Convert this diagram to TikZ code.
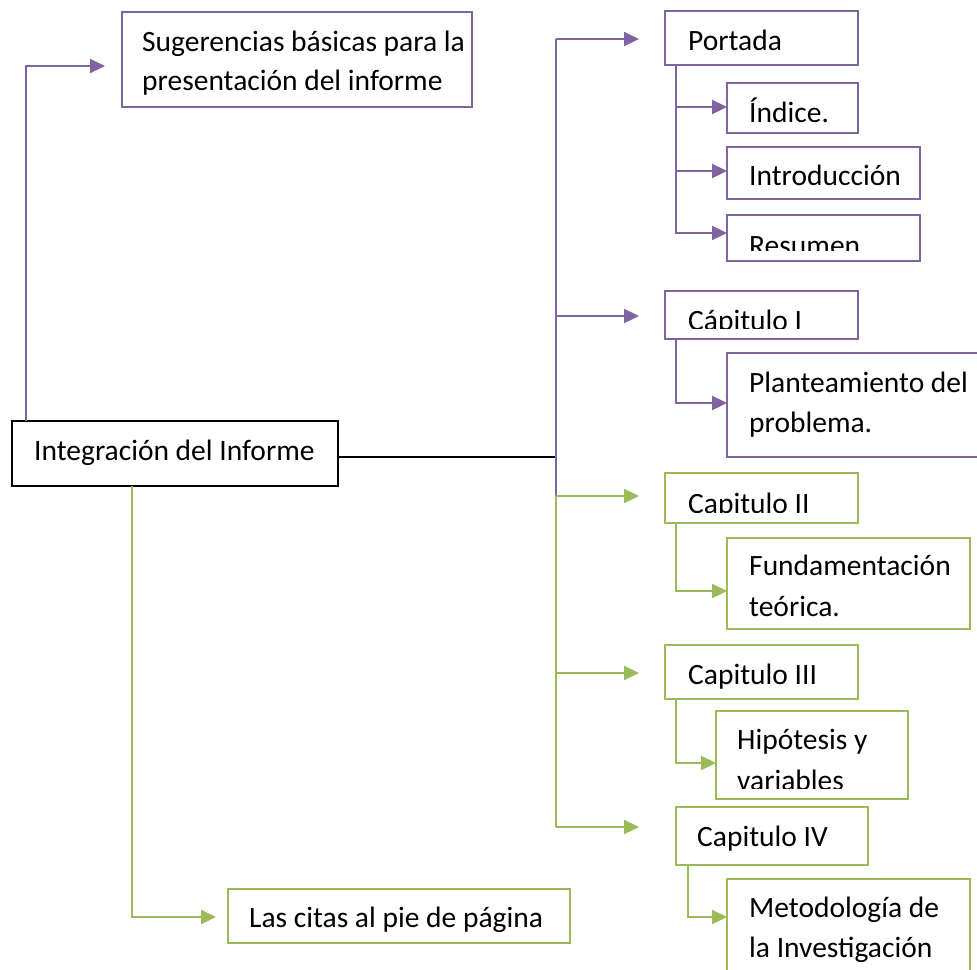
\documentclass[tikz,border=0pt]{standalone}
\usepackage{fontspec}
\setmainfont{Carlito}
\usetikzlibrary{arrows.meta}
\definecolor{pur}{HTML}{8064A2}
\definecolor{grn}{HTML}{9BBB59}
\tikzset{
  bx/.style={rectangle, line width=2.3pt, anchor=north west, inner sep=0pt, outer sep=0pt},
  pbox/.style={bx, draw=pur},
  gbox/.style={bx, draw=grn},
  kbox/.style={bx, draw=black},
  txt/.style={inner sep=0pt, anchor=base west, text=black, font=\fontsize{29.5pt}{35pt}\selectfont},
  pcon/.style={draw=pur, line width=2.3pt},
  gcon/.style={draw=grn, line width=2.3pt},
  parr/.style={pcon, -{Triangle[length=15pt,width=14pt]}},
  garr/.style={gcon, -{Triangle[length=15pt,width=14pt]}},
}
\begin{document}
\begin{tikzpicture}[x=1pt,y=-1pt]
\useasboundingbox (0,0) rectangle (977,969);
\clip (0,0) rectangle (977,969);
\fill[white] (0,0) rectangle (977,969);

% boxes
\node[kbox, minimum width=326pt, minimum height=65pt] (integ) at (12,421) {};
\node[pbox, minimum width=350pt, minimum height=95pt] (sug) at (122,12) {};
\node[pbox, minimum width=193pt, minimum height=54pt] (portada) at (665,11) {};
\node[pbox, minimum width=131pt, minimum height=50pt] (indice) at (727,83) {};
\node[pbox, minimum width=193pt, minimum height=52pt] (intro) at (727,147) {};
\node[pbox, minimum width=193pt, minimum height=46pt] (resumen) at (727,215) {};
\node[pbox, minimum width=193pt, minimum height=48pt] (cap1) at (665,291) {};
\node[pbox, minimum width=270pt, minimum height=104pt] (plant) at (727,353) {};
\node[gbox, minimum width=193pt, minimum height=50pt] (cap2) at (665,473) {};
\node[gbox, minimum width=243pt, minimum height=91pt] (fund) at (727,538) {};
\node[gbox, minimum width=193pt, minimum height=54pt] (cap3) at (665,645) {};
\node[gbox, minimum width=192pt, minimum height=88pt] (hip) at (716,711) {};
\node[gbox, minimum width=192pt, minimum height=58pt] (cap4) at (676,807) {};
\node[gbox, minimum width=243pt, minimum height=110pt] (met) at (727,879) {};
\node[gbox, minimum width=342pt, minimum height=54pt] (citas) at (228,889) {};

% texts
\node[txt] (tinteg) at (34,460) {Integración del Informe};
\node[txt] (tsug1) at (142,51) {Sugerencias básicas para la};
\node[txt] (tsug2) at (142,90) {presentación del informe};
\node[txt] (tportada) at (688,50) {Portada};
\node[txt] (tindice) at (749,122) {Índice.};
\node[txt] (tintro) at (749,185) {Introducción};
\begin{scope}
\clip (727,215) rectangle (920,250);
\node[txt] (tresumen) at (749,255) {Resumen .};
\end{scope}
\begin{scope}
\clip (665,291) rectangle (858,328);
\node[txt] (tcap1) at (688,330) {Cápitulo I};
\end{scope}
\node[txt] (tplant1) at (749,392) {Planteamiento del};
\node[txt] (tplant2) at (749,432) {problema.};
\begin{scope}
\clip (665,473) rectangle (858,512);
\node[txt] (tcap2) at (688,513) {Capitulo II};
\end{scope}
\node[txt] (tfund1) at (749,575) {Fundamentación};
\node[txt] (tfund2) at (749,616) {teórica.};
\node[txt] (tcap3) at (688,684) {Capitulo III};
\node[txt] (thip1) at (737,749) {Hipótesis y};
\begin{scope}
\clip (716,711) rectangle (908,788);
\node[txt] (thip2) at (737,790) {variables};
\end{scope}
\node[txt] (tcap4) at (697,846) {Capitulo IV};
\node[txt] (tmet1) at (749,917) {Metodología de};
\begin{scope}
\clip (727,879) rectangle (977,961);
\node[txt] (tmet2) at (749,957) {la Investigación};
\end{scope}
\node[txt] (tcitas) at (249,927) {Las citas al pie de página};

% trunk coordinates
\coordinate (tA) at (556,39);
\coordinate (tB) at (556,316);
\coordinate (trk) at (556,457);
\coordinate (tC) at (556,496);
\coordinate (tD) at (556,673);
\coordinate (tE) at (556,827);

% main connectors
\draw[black, line width=2.3pt] ([yshift=-3.5pt]integ.east) -- (trk);
\draw[pcon] (tA) -- (tC);
\draw[gcon] (tC) -- (tE);
\draw[parr, shorten >=26pt] (tA) -- (tA -| portada.west);
\draw[parr, shorten >=26pt] (tB) -- (tB -| cap1.west);
\draw[garr, shorten >=26pt] (tC) -- (tC -| cap2.west);
\draw[garr, shorten >=26pt] (tD) -- (tD -| cap3.west);
\draw[garr, shorten >=37pt] (tE) -- (tE -| cap4.west);

% left connectors
\draw[parr, shorten >=17pt] ([xshift=14pt]integ.north west) |- ([yshift=-54pt]sug.north west);
\draw[garr, shorten >=12pt] ([xshift=120pt]integ.south west) |- ([yshift=-28pt]citas.north west);

% sub connectors
\draw[parr] ([xshift=11pt]portada.south west) |- ([yshift=5pt]resumen.west);
\draw[parr] ([xshift=11pt]portada.south west) |- ([yshift=1pt]indice.west);
\draw[parr] ([xshift=11pt]portada.south west) |- ([yshift=2pt]intro.west);
\draw[parr] ([xshift=11pt]cap1.south west) |- ([yshift=2pt]plant.west);
\draw[garr] ([xshift=11pt]cap2.south west) |- ([yshift=-7.5pt]fund.west);
\draw[garr] ([xshift=11pt]cap3.south west) |- ([yshift=-8pt]hip.west);
\draw[garr] ([xshift=12pt]cap4.south west) |- ([yshift=-38pt]met.north west);
\end{tikzpicture}
\end{document}
